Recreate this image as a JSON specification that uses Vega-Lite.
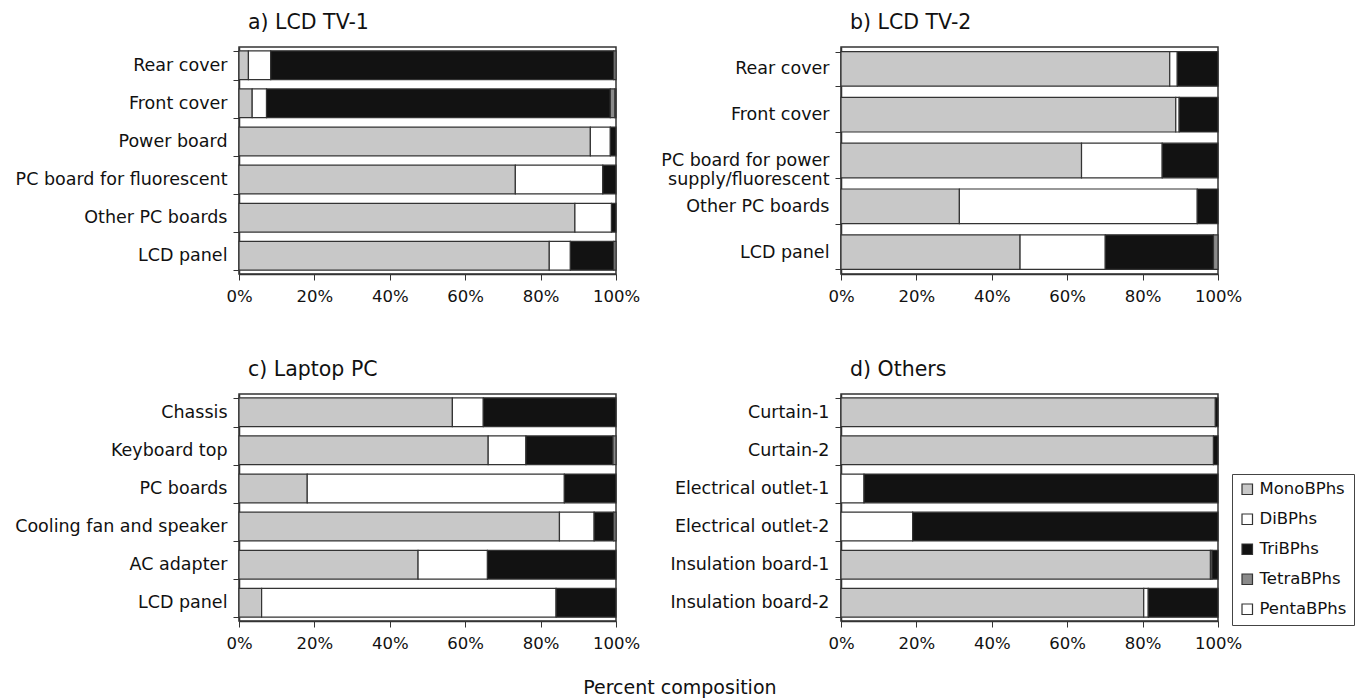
{
  "$schema": "https://vega.github.io/schema/vega-lite/v6.json",
  "padding": {"left": 5, "top": 11, "right": 5, "bottom": 5},
  "background": "white",
  "config": {
    "font": "DejaVu Sans",
    "view": {"stroke": "#333", "strokeWidth": 1.5},
    "axisY": {"tickBand": "extent", "tickSize": 6, "labelFontSize": 17.5, "labelColor": "#111", "labelPadding": 6, "labelLimit": 300, "domainColor": "#333", "tickColor": "#333", "domainWidth": 1.5, "labelLineHeight": 19, "minExtent": 233, "maxExtent": 233},
    "axisX": {"tickSize": 6, "labelFontSize": 16.5, "labelColor": "#111", "labelPadding": 8, "labelFlush": false, "grid": false, "domainColor": "#333", "tickColor": "#333", "domainWidth": 1.5},
    "title": {"fontSize": 20.5, "fontWeight": "normal", "color": "#111", "anchor": "start", "frame": "group", "offset": 5}
  },
  "data": {"values": [
    {"panel": "a", "item": "Rear cover", "type": "MonoBPhs", "value": 2.5},
    {"panel": "a", "item": "Rear cover", "type": "DiBPhs", "value": 5.9},
    {"panel": "a", "item": "Rear cover", "type": "TriBPhs", "value": 91.0},
    {"panel": "a", "item": "Rear cover", "type": "TetraBPhs", "value": 0.6},
    {"panel": "a", "item": "Front cover", "type": "MonoBPhs", "value": 3.5},
    {"panel": "a", "item": "Front cover", "type": "DiBPhs", "value": 3.8},
    {"panel": "a", "item": "Front cover", "type": "TriBPhs", "value": 91.2},
    {"panel": "a", "item": "Front cover", "type": "TetraBPhs", "value": 1.2},
    {"panel": "a", "item": "Front cover", "type": "PentaBPhs", "value": 0.3},
    {"panel": "a", "item": "Power board", "type": "MonoBPhs", "value": 93.2},
    {"panel": "a", "item": "Power board", "type": "DiBPhs", "value": 5.3},
    {"panel": "a", "item": "Power board", "type": "TriBPhs", "value": 1.5},
    {"panel": "a", "item": "PC board for fluorescent", "type": "MonoBPhs", "value": 73.3},
    {"panel": "a", "item": "PC board for fluorescent", "type": "DiBPhs", "value": 23.2},
    {"panel": "a", "item": "PC board for fluorescent", "type": "TriBPhs", "value": 3.5},
    {"panel": "a", "item": "Other PC boards", "type": "MonoBPhs", "value": 89.1},
    {"panel": "a", "item": "Other PC boards", "type": "DiBPhs", "value": 9.7},
    {"panel": "a", "item": "Other PC boards", "type": "TriBPhs", "value": 1.2},
    {"panel": "a", "item": "LCD panel", "type": "MonoBPhs", "value": 82.3},
    {"panel": "a", "item": "LCD panel", "type": "DiBPhs", "value": 5.6},
    {"panel": "a", "item": "LCD panel", "type": "TriBPhs", "value": 11.5},
    {"panel": "a", "item": "LCD panel", "type": "TetraBPhs", "value": 0.6},

    {"panel": "b", "item": "Rear cover", "type": "MonoBPhs", "value": 87.2},
    {"panel": "b", "item": "Rear cover", "type": "DiBPhs", "value": 2.0},
    {"panel": "b", "item": "Rear cover", "type": "TriBPhs", "value": 10.8},
    {"panel": "b", "item": "Front cover", "type": "MonoBPhs", "value": 88.8},
    {"panel": "b", "item": "Front cover", "type": "DiBPhs", "value": 0.9},
    {"panel": "b", "item": "Front cover", "type": "TriBPhs", "value": 10.3},
    {"panel": "b", "item": "PC board for power supply/fluorescent", "type": "MonoBPhs", "value": 63.8},
    {"panel": "b", "item": "PC board for power supply/fluorescent", "type": "DiBPhs", "value": 21.4},
    {"panel": "b", "item": "PC board for power supply/fluorescent", "type": "TriBPhs", "value": 14.8},
    {"panel": "b", "item": "Other PC boards", "type": "MonoBPhs", "value": 31.4},
    {"panel": "b", "item": "Other PC boards", "type": "DiBPhs", "value": 63.1},
    {"panel": "b", "item": "Other PC boards", "type": "TriBPhs", "value": 5.5},
    {"panel": "b", "item": "LCD panel", "type": "MonoBPhs", "value": 47.5},
    {"panel": "b", "item": "LCD panel", "type": "DiBPhs", "value": 22.6},
    {"panel": "b", "item": "LCD panel", "type": "TriBPhs", "value": 28.7},
    {"panel": "b", "item": "LCD panel", "type": "TetraBPhs", "value": 1.2},

    {"panel": "c", "item": "Chassis", "type": "MonoBPhs", "value": 56.6},
    {"panel": "c", "item": "Chassis", "type": "DiBPhs", "value": 8.2},
    {"panel": "c", "item": "Chassis", "type": "TriBPhs", "value": 35.2},
    {"panel": "c", "item": "Keyboard top", "type": "MonoBPhs", "value": 66.1},
    {"panel": "c", "item": "Keyboard top", "type": "DiBPhs", "value": 10.0},
    {"panel": "c", "item": "Keyboard top", "type": "TriBPhs", "value": 23.1},
    {"panel": "c", "item": "Keyboard top", "type": "TetraBPhs", "value": 0.8},
    {"panel": "c", "item": "PC boards", "type": "MonoBPhs", "value": 18.1},
    {"panel": "c", "item": "PC boards", "type": "DiBPhs", "value": 68.2},
    {"panel": "c", "item": "PC boards", "type": "TriBPhs", "value": 13.7},
    {"panel": "c", "item": "Cooling fan and speaker", "type": "MonoBPhs", "value": 85.0},
    {"panel": "c", "item": "Cooling fan and speaker", "type": "DiBPhs", "value": 9.2},
    {"panel": "c", "item": "Cooling fan and speaker", "type": "TriBPhs", "value": 5.2},
    {"panel": "c", "item": "Cooling fan and speaker", "type": "TetraBPhs", "value": 0.6},
    {"panel": "c", "item": "AC adapter", "type": "MonoBPhs", "value": 47.5},
    {"panel": "c", "item": "AC adapter", "type": "DiBPhs", "value": 18.4},
    {"panel": "c", "item": "AC adapter", "type": "TriBPhs", "value": 34.1},
    {"panel": "c", "item": "LCD panel", "type": "MonoBPhs", "value": 6.0},
    {"panel": "c", "item": "LCD panel", "type": "DiBPhs", "value": 78.1},
    {"panel": "c", "item": "LCD panel", "type": "TriBPhs", "value": 15.9},

    {"panel": "d", "item": "Curtain-1", "type": "MonoBPhs", "value": 99.3},
    {"panel": "d", "item": "Curtain-1", "type": "TriBPhs", "value": 0.7},
    {"panel": "d", "item": "Curtain-2", "type": "MonoBPhs", "value": 98.8},
    {"panel": "d", "item": "Curtain-2", "type": "TriBPhs", "value": 1.2},
    {"panel": "d", "item": "Electrical outlet-1", "type": "DiBPhs", "value": 6.1},
    {"panel": "d", "item": "Electrical outlet-1", "type": "TriBPhs", "value": 93.9},
    {"panel": "d", "item": "Electrical outlet-2", "type": "DiBPhs", "value": 19.0},
    {"panel": "d", "item": "Electrical outlet-2", "type": "TriBPhs", "value": 81.0},
    {"panel": "d", "item": "Insulation board-1", "type": "MonoBPhs", "value": 98.0},
    {"panel": "d", "item": "Insulation board-1", "type": "DiBPhs", "value": 0.4},
    {"panel": "d", "item": "Insulation board-1", "type": "TriBPhs", "value": 1.6},
    {"panel": "d", "item": "Insulation board-2", "type": "MonoBPhs", "value": 80.3},
    {"panel": "d", "item": "Insulation board-2", "type": "DiBPhs", "value": 1.2},
    {"panel": "d", "item": "Insulation board-2", "type": "TriBPhs", "value": 18.5}
  ]},
  "transform": [
    {"calculate": "indexof(['MonoBPhs','DiBPhs','TriBPhs','TetraBPhs','PentaBPhs'], datum.type)", "as": "k"}
  ],
  "bounds": "flush",
  "columns": 2,
  "spacing": {"row": 120, "column": 225},
  "resolve": {"scale": {"y": "independent"}},
  "title": {"text": "Percent composition", "orient": "bottom", "anchor": "middle", "frame": "bounds", "fontSize": 19, "fontWeight": "normal", "offset": 27, "dx": 0},
  "concat": [
    {
      "width": 377, "height": 227,
      "title": {"text": "a) LCD TV-1", "dx": 9},
      "transform": [{"filter": "datum.panel == 'a'"}],
      "mark": {"type": "bar", "stroke": "#333", "strokeWidth": 1.2},
      "encoding": {
        "y": {"field": "item", "type": "nominal", "title": null,
              "sort": ["Rear cover", "Front cover", "Power board", "PC board for fluorescent", "Other PC boards", "LCD panel"],
              "scale": {"paddingInner": 0.245, "paddingOuter": 0.1}},
        "x": {"field": "value", "type": "quantitative", "stack": "zero", "title": null,
              "scale": {"domain": [0, 100], "nice": false},
              "axis": {"values": [0, 20, 40, 60, 80, 100], "labelExpr": "datum.value + '%'"}},
        "color": {"field": "type", "type": "nominal",
                  "scale": {"domain": ["MonoBPhs", "DiBPhs", "TriBPhs", "TetraBPhs", "PentaBPhs"], "range": ["#c8c8c8", "#ffffff", "#121212", "#8a8a8a", "#ffffff"]},
                  "legend": {"orient": "none", "legendX": 993, "legendY": 427, "title": null, "symbolType": "square", "symbolSize": 110, "symbolStrokeColor": "#222", "symbolStrokeWidth": 1.2, "symbolOpacity": 1, "labelFontSize": 16.5, "labelColor": "#111", "rowPadding": 13, "padding": 7, "strokeColor": "#444", "labelOffset": 4}},
        "order": {"field": "k", "type": "quantitative"}
      }
    },
    {
      "width": 377, "height": 227,
      "title": {"text": "b) LCD TV-2", "dx": 9},
      "transform": [{"filter": "datum.panel == 'b'"}],
      "mark": {"type": "bar", "stroke": "#333", "strokeWidth": 1.2},
      "encoding": {
        "y": {"field": "item", "type": "nominal", "title": null,
              "sort": ["Rear cover", "Front cover", "PC board for power supply/fluorescent", "Other PC boards", "LCD panel"],
              "scale": {"paddingInner": 0.245, "paddingOuter": 0.1},
              "axis": {"labelExpr": "datum.label == 'PC board for power supply/fluorescent' ? ['PC board for power', 'supply/fluorescent'] : datum.label"}},
        "x": {"field": "value", "type": "quantitative", "stack": "zero", "title": null,
              "scale": {"domain": [0, 100], "nice": false},
              "axis": {"values": [0, 20, 40, 60, 80, 100], "labelExpr": "datum.value + '%'"}},
        "color": {"field": "type", "type": "nominal"},
        "order": {"field": "k", "type": "quantitative"}
      }
    },
    {
      "width": 377, "height": 227,
      "title": {"text": "c) Laptop PC", "dx": 9},
      "transform": [{"filter": "datum.panel == 'c'"}],
      "mark": {"type": "bar", "stroke": "#333", "strokeWidth": 1.2},
      "encoding": {
        "y": {"field": "item", "type": "nominal", "title": null,
              "sort": ["Chassis", "Keyboard top", "PC boards", "Cooling fan and speaker", "AC adapter", "LCD panel"],
              "scale": {"paddingInner": 0.245, "paddingOuter": 0.1}},
        "x": {"field": "value", "type": "quantitative", "stack": "zero", "title": null,
              "scale": {"domain": [0, 100], "nice": false},
              "axis": {"values": [0, 20, 40, 60, 80, 100], "labelExpr": "datum.value + '%'"}},
        "color": {"field": "type", "type": "nominal"},
        "order": {"field": "k", "type": "quantitative"}
      }
    },
    {
      "width": 377, "height": 227,
      "title": {"text": "d) Others", "dx": 9},
      "transform": [{"filter": "datum.panel == 'd'"}],
      "mark": {"type": "bar", "stroke": "#333", "strokeWidth": 1.2},
      "encoding": {
        "y": {"field": "item", "type": "nominal", "title": null,
              "sort": ["Curtain-1", "Curtain-2", "Electrical outlet-1", "Electrical outlet-2", "Insulation board-1", "Insulation board-2"],
              "scale": {"paddingInner": 0.245, "paddingOuter": 0.1}},
        "x": {"field": "value", "type": "quantitative", "stack": "zero", "title": null,
              "scale": {"domain": [0, 100], "nice": false},
              "axis": {"values": [0, 20, 40, 60, 80, 100], "labelExpr": "datum.value + '%'"}},
        "color": {"field": "type", "type": "nominal"},
        "order": {"field": "k", "type": "quantitative"}
      }
    }
  ]
}
